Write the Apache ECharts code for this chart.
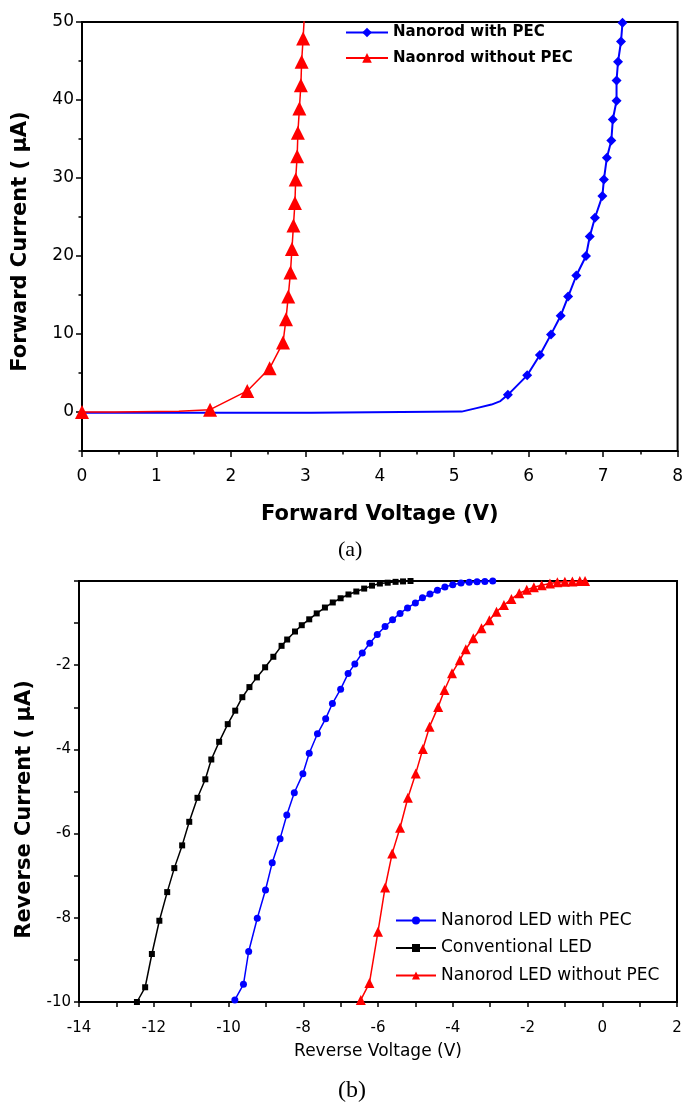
<!DOCTYPE html>
<html>
<head>
<meta charset="utf-8">
<script src="https://cdn.jsdelivr.net/npm/echarts@6/dist/echarts.min.js"></script>
<style>
  html, body { margin: 0; padding: 0; background: #fff; }
  #chart { width: 686px; height: 1106px; }
</style>
</head>
<body>
<div id="chart"></div>
<script>
// ---- (a) forward I-V ----
// nanorod with PEC: unmarked baseline stretch, then measured points
const fwdWithBaseV = [0, 3.08, 3.10, 5.10, 5.30, 5.50, 5.62];
const fwdWithBaseI = [-0.1, -0.1, 0.05, 0.05, 0.5, 0.95, 1.4];
const fwdWithV = [5.72, 5.98, 6.15, 6.30, 6.43, 6.53, 6.64, 6.77, 6.82, 6.89, 6.99, 7.01, 7.05, 7.11, 7.13, 7.18, 7.18, 7.20, 7.24, 7.26];
const fwdWithI = [2.2, 4.7, 7.3, 9.95, 12.35, 14.8, 17.5, 20.0, 22.5, 24.9, 27.7, 29.8, 32.6, 34.8, 37.5, 39.9, 42.5, 44.9, 47.5, 49.9];

// nanorod without PEC
const fwdWithoutBaseV = [0.44, 0.45, 1.30, 1.32];
const fwdWithoutBaseI = [0, 0.1, 0.1, 0.25];
const fwdWithoutV = [0, 1.72, 2.22, 2.52, 2.70, 2.74, 2.77, 2.80, 2.82, 2.84, 2.86, 2.87, 2.89, 2.90, 2.92, 2.94, 2.95, 2.97];
const fwdWithoutI = [0, 0.3, 2.7, 5.6, 8.9, 11.9, 14.8, 17.9, 20.9, 23.9, 26.8, 29.8, 32.8, 35.8, 38.9, 41.9, 44.9, 47.9];
const fwdWithoutTailV = [2.985];
const fwdWithoutTailI = [50.5];

// current axis ticks for (a)
const fwdCurrentMajor = [0, 10, 20, 30, 40, 50];
const fwdCurrentMinor = [-5, 5, 15, 25, 35, 45];

// ---- (b) reverse I-V ----
const revWithV = [-9.83, -9.60, -9.46, -9.23, -9.01, -8.83, -8.62, -8.44, -8.24, -8.01, -7.84, -7.62, -7.40, -7.22, -7.00, -6.80, -6.62, -6.42, -6.22, -6.02, -5.81, -5.61, -5.41, -5.21, -5.00, -4.81, -4.61, -4.41, -4.21, -4.00, -3.78, -3.56, -3.35, -3.14, -2.93];
const revWithI = [-9.95, -9.58, -8.80, -8.01, -7.34, -6.69, -6.12, -5.56, -5.03, -4.58, -4.09, -3.63, -3.27, -2.91, -2.57, -2.20, -1.97, -1.71, -1.48, -1.27, -1.08, -0.92, -0.77, -0.64, -0.52, -0.40, -0.31, -0.22, -0.14, -0.09, -0.05, -0.03, -0.02, -0.01, 0];

const revConvV = [-12.45, -12.23, -12.05, -11.85, -11.64, -11.45, -11.24, -11.05, -10.83, -10.62, -10.46, -10.25, -10.02, -9.82, -9.63, -9.44, -9.24, -9.02, -8.80, -8.58, -8.43, -8.22, -8.04, -7.84, -7.64, -7.42, -7.21, -7.00, -6.79, -6.58, -6.37, -6.16, -5.95, -5.74, -5.53, -5.33, -5.13];
const revConvI = [-10.0, -9.65, -8.86, -8.07, -7.39, -6.82, -6.28, -5.72, -5.15, -4.71, -4.24, -3.82, -3.40, -3.08, -2.76, -2.52, -2.29, -2.05, -1.80, -1.54, -1.39, -1.20, -1.05, -0.91, -0.77, -0.63, -0.51, -0.41, -0.32, -0.25, -0.18, -0.11, -0.06, -0.04, -0.02, -0.01, 0];

const revWithoutV = [-6.46, -6.23, -6.00, -5.81, -5.62, -5.41, -5.20, -4.99, -4.80, -4.62, -4.39, -4.22, -4.02, -3.81, -3.65, -3.45, -3.23, -3.02, -2.83, -2.63, -2.43, -2.22, -2.02, -1.83, -1.62, -1.40, -1.20, -1.00, -0.80, -0.60, -0.46];
const revWithoutI = [-9.95, -9.55, -8.33, -7.28, -6.47, -5.86, -5.15, -4.57, -3.99, -3.46, -2.99, -2.59, -2.19, -1.88, -1.62, -1.36, -1.12, -0.93, -0.73, -0.57, -0.43, -0.29, -0.21, -0.15, -0.10, -0.06, -0.03, -0.02, -0.01, 0, 0];

const fwdNames = ['Nanorod with PEC', 'Naonrod without PEC'];
const revNames = ['Nanorod LED with PEC', 'Conventional LED', 'Nanorod LED without PEC'];

const pairs = (xs, ys) => xs.map((x, i) => [x, ys[i]]);
const plain = (xs, ys) => pairs(xs, ys).map(p => ({ value: p, symbol: 'none' }));

const FONT = '"DejaVu Sans", Verdana, sans-serif';
const AXIS_LINE = { show: true, onZero: false, lineStyle: { color: '#000', width: 2 } };

function axisBase(extra) {
  return Object.assign({
    type: 'value',
    axisLine: AXIS_LINE,
    axisTick: { show: true, inside: false, length: 5, lineStyle: { color: '#000', width: 1.5 } },
    minorTick: { show: false },
    splitLine: { show: false }
  }, extra);
}

const chart = echarts.init(document.getElementById('chart'), null, { renderer: 'canvas' });

chart.setOption({
  backgroundColor: '#fff',
  animation: false,
  grid: [
    { left: 82, top: 22, width: 598, height: 429, show: true, borderColor: '#000', borderWidth: 2, backgroundColor: 'transparent' },
    { left: 79, top: 581, width: 598, height: 421, show: true, borderColor: '#000', borderWidth: 2, backgroundColor: 'transparent' }
  ],
  xAxis: [
    axisBase({
      gridIndex: 0, min: 0, max: 8, interval: 1,
      axisTick: { show: true, inside: false, length: 6, lineStyle: { color: '#000', width: 1.5 } },
      minorTick: { show: true, splitNumber: 2, length: 3.5, lineStyle: { color: '#000', width: 1.5 } },
      name: 'Forward Voltage (V)', nameLocation: 'middle', nameGap: 53,
      nameTextStyle: { color: '#000', fontFamily: FONT, fontSize: 21, fontWeight: 'bold' },
      axisLabel: { color: '#000', fontFamily: FONT, fontSize: 17, margin: 17 }
    }),
    axisBase({
      gridIndex: 1, min: -14, max: 2, interval: 2,
      minorTick: { show: true, splitNumber: 2, length: 5, lineStyle: { color: '#000', width: 1.5 } },
      name: 'Reverse Voltage (V)', nameLocation: 'middle', nameGap: 41,
      nameTextStyle: { color: '#000', fontFamily: FONT, fontSize: 17 },
      axisLabel: { color: '#000', fontFamily: FONT, fontSize: 15, margin: 19 }
    })
  ],
  yAxis: [
    axisBase({
      gridIndex: 0, min: -5, max: 50, position: 'left',
      axisTick: { show: true, inside: false, length: 6, customValues: fwdCurrentMajor, lineStyle: { color: '#000', width: 1.5 } },
      name: 'Forward Current ( \u03BCA)', nameLocation: 'middle', nameGap: 51,
      nameTextStyle: { color: '#000', fontFamily: FONT, fontSize: 21, fontWeight: 'bold', padding: [0, 10, 0, 0] },
      axisLabel: { color: '#000', fontFamily: FONT, fontSize: 17, margin: 8, customValues: fwdCurrentMajor }
    }),
    axisBase({
      gridIndex: 1, min: -10, max: 0, interval: 2,
      minorTick: { show: true, splitNumber: 2, length: 5, lineStyle: { color: '#000', width: 1.5 } },
      name: 'Reverse Current ( \u03BCA)', nameLocation: 'middle', nameGap: 44,
      nameTextStyle: { color: '#000', fontFamily: FONT, fontSize: 21, fontWeight: 'bold', padding: [0, 36, 0, 0] },
      axisLabel: { color: '#000', fontFamily: FONT, fontSize: 15, margin: 8,
        formatter: v => (v !== 0 ? String(v) : '') }
    }),
    // short ticks between the labelled current values of (a)
    axisBase({
      gridIndex: 0, min: -5, max: 50, position: 'left', offset: 0,
      axisLine: { show: false },
      axisTick: { show: true, inside: false, length: 3.5, customValues: fwdCurrentMinor, lineStyle: { color: '#000', width: 1.5 } },
      axisLabel: { show: false }
    })
  ],
  legend: [
    {
      data: fwdNames, orient: 'vertical', left: 340, top: 20,
      itemWidth: 42, itemHeight: 12, itemGap: 10.4,
      textStyle: { color: '#000', fontFamily: FONT, fontSize: 15, fontWeight: 'bold' }
    },
    {
      data: revNames, orient: 'vertical', left: 390, top: 907,
      itemWidth: 40, itemHeight: 10, itemGap: 10.5,
      textStyle: { color: '#000', fontFamily: FONT, fontSize: 17 }
    }
  ],
  graphic: [
    { type: 'text', left: 338, top: 539, style: { text: '(a)', font: '22px "Liberation Serif", "Times New Roman", serif', fill: '#000' } },
    { type: 'text', left: 338, top: 1079, style: { text: '(b)', font: '24px "Liberation Serif", "Times New Roman", serif', fill: '#000' } }
  ],
  series: [
    {
      name: fwdNames[0], type: 'line', xAxisIndex: 0, yAxisIndex: 0,
      data: plain(fwdWithBaseV, fwdWithBaseI).concat(pairs(fwdWithV, fwdWithI)),
      symbol: 'diamond', symbolSize: 10, showAllSymbol: true,
      lineStyle: { color: '#0000ff', width: 2 }, itemStyle: { color: '#0000ff' }
    },
    {
      name: fwdNames[1], type: 'line', xAxisIndex: 0, yAxisIndex: 0,
      data: [pairs(fwdWithoutV, fwdWithoutI)[0]]
        .concat(plain(fwdWithoutBaseV, fwdWithoutBaseI))
        .concat(pairs(fwdWithoutV, fwdWithoutI).slice(1))
        .concat(plain(fwdWithoutTailV, fwdWithoutTailI)),
      symbol: 'triangle', symbolSize: 14, showAllSymbol: true,
      lineStyle: { color: '#ff0000', width: 1.5 }, itemStyle: { color: '#ff0000' }
    },
    {
      name: revNames[0], type: 'line', xAxisIndex: 1, yAxisIndex: 1,
      data: pairs(revWithV, revWithI),
      symbol: 'circle', symbolSize: 7, showAllSymbol: true,
      lineStyle: { color: '#0000ff', width: 1.5 }, itemStyle: { color: '#0000ff' }
    },
    {
      name: revNames[1], type: 'line', xAxisIndex: 1, yAxisIndex: 1,
      data: pairs(revConvV, revConvI),
      symbol: 'rect', symbolSize: 6, showAllSymbol: true,
      lineStyle: { color: '#000000', width: 1.5 }, itemStyle: { color: '#000000' }
    },
    {
      name: revNames[2], type: 'line', xAxisIndex: 1, yAxisIndex: 1,
      data: pairs(revWithoutV, revWithoutI),
      symbol: 'triangle', symbolSize: 10, showAllSymbol: true,
      lineStyle: { color: '#ff0000', width: 1.5 }, itemStyle: { color: '#ff0000' }
    }
  ]
});
</script>
</body>
</html>
